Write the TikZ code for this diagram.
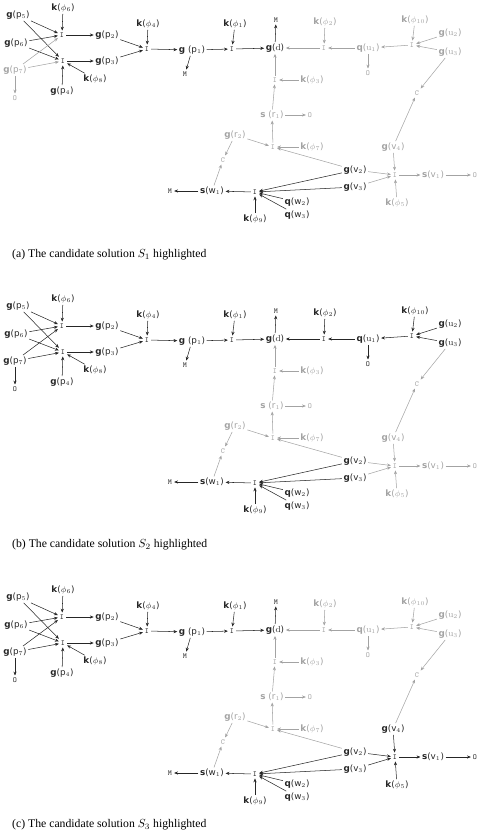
\documentclass[tikz,border=0pt]{standalone}
\usepackage{fontspec}
\usetikzlibrary{arrows.meta}
\newfontfamily\labfamily{DejaVu Sans}
\newfontfamily\capfamily{Liberation Serif}
\newcommand{\labfont}{\labfamily\fontsize{7.5}{9}\selectfont}
\newcommand{\opfont}{\ttfamily\fontsize{6.5}{7}\selectfont}
\newcommand{\gl}[2]{\textbf{#1}(#2)}
\definecolor{ink}{gray}{0.15}
\definecolor{faded}{gray}{0.64}
\begin{document}
\begin{tikzpicture}[x=0.03cm,y=-0.03cm,
    lab/.style={font=\labfont, inner sep=1.2pt},
    op/.style={font=\opfont, inner sep=1.6pt},
    arr/.style={-{Stealth[length=3.3pt,width=2.7pt]}, line width=0.45pt},
    off/.style={color=faded},
    capt/.style={font=\capfamily\fontsize{10}{12}\selectfont, inner sep=0pt, anchor=west}]
\useasboundingbox (0,0) rectangle (487,833);
\clip (0,0) rectangle (487,833);
\foreach \row/\colp/\colu/\colv in {0/faded/faded/faded, 1/ink/ink/faded, 2/ink/faded/ink}{
\begin{scope}[shift={(0,\row*291)}, color=ink,
    pp/.style={color=\colp}, uu/.style={color=\colu}, vv/.style={color=\colv}]
    % left part
    \node[lab](p5) at (18,15){\gl{g}{p$_5$}};
    \node[lab](k6) at (63,8){\gl{k}{$\phi_6$}};
    \node[op](i1) at (62,35){I};
    \node[lab](p2) at (107,35){\gl{g}{p$_2$}};
    \node[lab](p6) at (16,43){\gl{g}{p$_6$}};
    \node[op](i2) at (63,61){I};
    \node[lab](p3) at (107,61){\gl{g}{p$_3$}};
    \node[lab,pp](p7) at (15,70){\gl{g}{p$_7$}};
    \node[op,pp](o1) at (15,98){O};
    \node[lab](k8) at (95,79){\gl{k}{$\phi_8$}};
    \node[lab](p4) at (62,91){\gl{g}{p$_4$}};
    \node[lab](k4) at (148,24){\gl{k}{$\phi_4$}};
    \node[op](i3) at (147,49){I};
    \node[lab](p1) at (192,50){\textbf{g} (p$_1$)};
    \node[op](m1) at (185,74){M};
    \node[lab](k1) at (235,24){\gl{k}{$\phi_1$}};
    \node[op](i4) at (232,49){I};
    \node[lab](d) at (275,48){\gl{g}{\textrm{d}}};
    \node[op](m2) at (276,20){M};
    % top right
    \node[lab,uu](k2) at (325,22){\gl{k}{$\phi_2$}};
    \node[op,uu](i5) at (324,48){I};
    \node[lab,uu](u1) at (368,48){\gl{q}{\textrm{u}$_1$}};
    \node[op,uu](o2) at (368,73){O};
    \node[lab,uu](k10) at (415,20){\gl{k}{$\phi_{10}$}};
    \node[op,uu](i6) at (412,45){I};
    \node[lab,uu](u2) at (450,33){\gl{g}{\textrm{u}$_2$}};
    \node[lab,uu](u3) at (450,52){\gl{g}{\textrm{u}$_3$}};
    \node[op,off](c1) at (417,93){C};
    % middle
    \node[op,off](i7) at (275,80){I};
    \node[lab,off](k3) at (312,80){\gl{k}{$\phi_3$}};
    \node[lab,off](r1) at (272,115){\textbf{s} (r$_1$)};
    \node[op,off](o3) at (310,115){O};
    \node[op,off](i8) at (273,147){I};
    \node[lab,off](k7) at (312,147){\gl{k}{$\phi_7$}};
    \node[lab,off](r2) at (235,135){\gl{g}{r$_2$}};
    \node[op,off](c2) at (223,160){C};
    % bottom right
    \node[lab](v2) at (355,170){\gl{g}{v$_2$}};
    \node[lab](v3) at (355,187){\gl{g}{v$_3$}};
    \node[lab,vv](v4) at (393,147){\gl{g}{v$_4$}};
    \node[op,vv](i9) at (395,175){I};
    \node[lab,vv](v1) at (433,175){\gl{s}{v$_1$}};
    \node[op,vv](o4) at (475,175){O};
    \node[lab,vv](k5) at (397,203){\gl{k}{$\phi_5$}};
    % bottom left
    \node[op](m3) at (170,191){M};
    \node[lab](w1) at (212,191){\gl{s}{w$_1$}};
    \node[op](i10) at (255,192){I};
    \node[lab](w2) at (297,202){\gl{q}{w$_2$}};
    \node[lab](w3) at (297,215){\gl{q}{w$_3$}};
    \node[lab](k9) at (255,219){\gl{k}{$\phi_9$}};
    % connectors
    \path[arr](p5) edge (i1) (p5) edge (i2) (k6) edge (i1) (p6) edge (i1) (p6) edge (i2)
        (p4) edge (i2) (k8) edge (i2) (i1) edge (p2) (i2) edge (p3) (p2) edge (i3)
        (p3) edge (i3) (k4) edge (i3) (i3) edge (p1) (p1) edge (m1) (p1) edge (i4)
        (k1) edge (i4) (i4) edge (d) (d) edge (m2);
    \path[arr,pp](p7) edge (i1) (p7) edge (i2) (p7) edge (o1);
    \path[arr,uu](i5) edge (d) (k2) edge (i5) (u1) edge (i5) (u1) edge (o2)
        (i6) edge (u1) (k10) edge (i6) (u2) edge (i6) (u3) edge (i6);
    \path[arr,off](u3) edge (c1) (v4) edge (c1) (i7) edge (d) (k3) edge (i7)
        (r1) edge (i7) (r1) edge (o3) (i8) edge (r1) (k7) edge (i8) (r2) edge (i8)
        (v2) edge (i8) (r2) edge (c2) (w1) edge (c2);
    \path[arr](v2) edge (i10) (v3) edge (i10) (w2) edge (i10) (w3) edge (i10)
        (k9) edge (i10) (i10) edge (w1) (w1) edge (m3);
    \path[arr,vv](v2) edge (i9) (v3) edge (i9) (v4) edge (i9) (k5) edge (i9)
        (i9) edge (v1) (v1) edge (o4);
\end{scope}
}
\node[capt](cap1) at (12,255){(a) The candidate solution $S_1$ highlighted};
\node[capt](cap2) at (12,545){(b) The candidate solution $S_2$ highlighted};
\node[capt](cap3) at (12,825){(c) The candidate solution $S_3$ highlighted};
\end{tikzpicture}
\end{document}
